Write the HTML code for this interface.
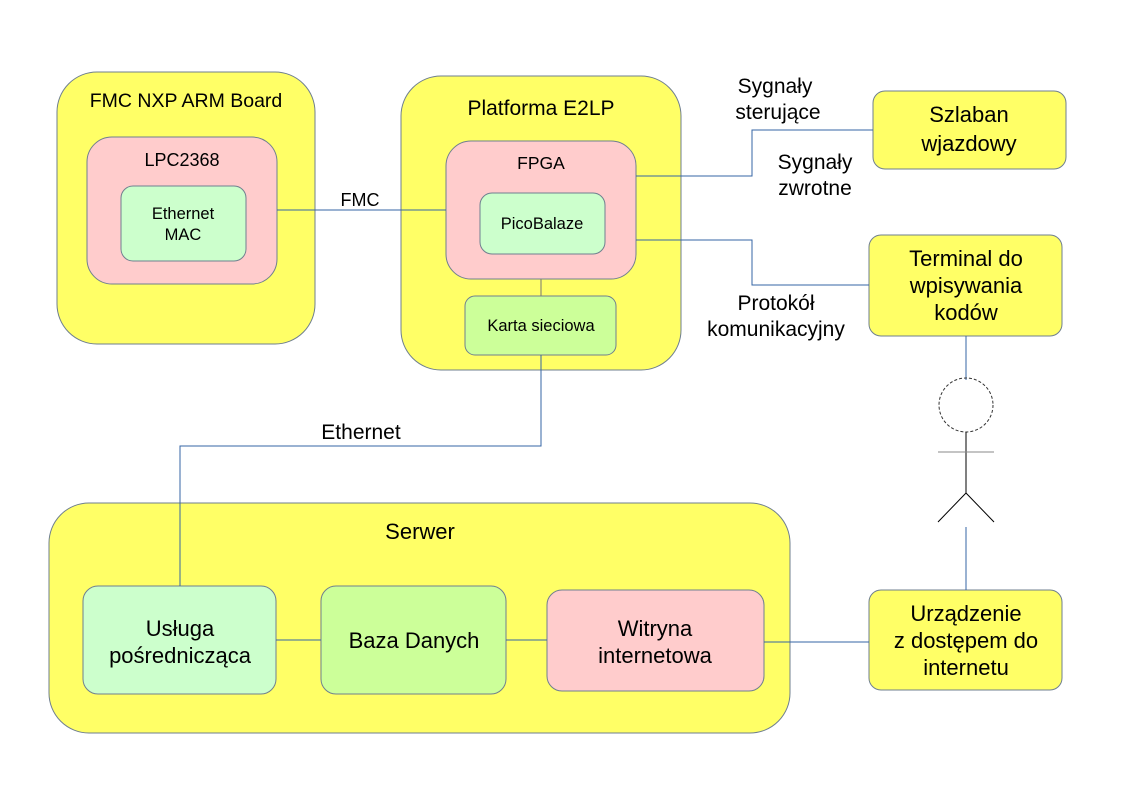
<!DOCTYPE html>
<html><head><meta charset="utf-8"><style>
html,body{margin:0;padding:0;background:#fff}
svg{display:block}
text{font-family:"Liberation Sans",sans-serif;fill:#000;text-anchor:middle}
</style></head><body>
<svg width="1123" height="794" viewBox="0 0 1123 794" xmlns="http://www.w3.org/2000/svg">
<g stroke="#6f7f8f" stroke-width="1">
<rect x="57" y="72" width="258" height="272" rx="40" fill="#ffff66"/>
<rect x="87" y="137" width="190" height="147" rx="25" fill="#ffcccc"/>
<rect x="121" y="186" width="125" height="75" rx="12" fill="#ccffcc"/>
<rect x="401" y="76" width="280" height="294" rx="40" fill="#ffff66"/>
<rect x="446" y="141" width="190" height="138" rx="25" fill="#ffcccc"/>
<rect x="480" y="193" width="125" height="61" rx="12" fill="#ccffcc"/>
<rect x="465" y="296" width="151" height="59" rx="10" fill="#ccff99"/>
<rect x="873" y="91" width="193" height="78" rx="12" fill="#ffff66"/>
<rect x="869" y="235" width="193" height="101" rx="12" fill="#ffff66"/>
<rect x="869" y="590" width="193" height="100" rx="12" fill="#ffff66"/>
<rect x="49" y="503" width="741" height="230" rx="40" fill="#ffff66"/>
<rect x="83" y="586" width="193" height="108" rx="15" fill="#ccffcc"/>
<rect x="321" y="586" width="185" height="108" rx="15" fill="#ccff99"/>
<rect x="547" y="590" width="217" height="101" rx="15" fill="#ffcccc"/>
</g>
<g stroke="#3465a4" stroke-width="1" fill="none">
<path d="M277 210H446"/>
<path d="M541 279V296" stroke="#777"/>
<path d="M541 355V446H180V586"/>
<path d="M636 176H752V130H873"/>
<path d="M636 240H752V285H869"/>
<path d="M966 336V380"/>
<path d="M966 527V590"/>
<path d="M276 640H321"/>
<path d="M506 640H547"/>
<path d="M764 642H869"/>
</g>
<circle cx="966" cy="405" r="27" fill="none" stroke="#333" stroke-dasharray="3,2"/>
<path d="M966 432V493M938 522L966 493L994 522" stroke="#000" fill="none"/>
<path d="M938 452H994" stroke="#888"/>
<text x="186" y="107" font-size="19.5">FMC NXP ARM Board</text>
<text x="182" y="166" font-size="18">LPC2368</text>
<text x="183" y="219" font-size="16.5">Ethernet</text>
<text x="183" y="240" font-size="16.5">MAC</text>
<text x="360" y="206" font-size="18">FMC</text>
<text x="541" y="115" font-size="21">Platforma E2LP</text>
<text x="541" y="169" font-size="17.5">FPGA</text>
<text x="542" y="229" font-size="16.5">PicoBalaze</text>
<text x="541" y="331" font-size="16.5">Karta sieciowa</text>
<text x="361" y="439" font-size="21">Ethernet</text>
<text x="775" y="93" font-size="21">Sygnały</text>
<text x="778" y="119" font-size="21">sterujące</text>
<text x="815" y="169" font-size="21">Sygnały</text>
<text x="815" y="195" font-size="21">zwrotne</text>
<text x="969" y="122" font-size="22">Szlaban</text>
<text x="969" y="151" font-size="22">wjazdowy</text>
<text x="966" y="266" font-size="22">Terminal do</text>
<text x="966" y="293" font-size="22">wpisywania</text>
<text x="966" y="320" font-size="22">kodów</text>
<text x="776" y="310" font-size="21">Protokół</text>
<text x="776" y="336" font-size="21">komunikacyjny</text>
<text x="966" y="621" font-size="22">Urządzenie</text>
<text x="966" y="648" font-size="22">z dostępem do</text>
<text x="966" y="675" font-size="22">internetu</text>
<text x="420" y="539" font-size="22">Serwer</text>
<text x="180" y="636" font-size="22">Usługa</text>
<text x="180" y="663" font-size="22">pośrednicząca</text>
<text x="414" y="648" font-size="22">Baza Danych</text>
<text x="655" y="636" font-size="22">Witryna</text>
<text x="655" y="663" font-size="22">internetowa</text>
</svg>
</body></html>
